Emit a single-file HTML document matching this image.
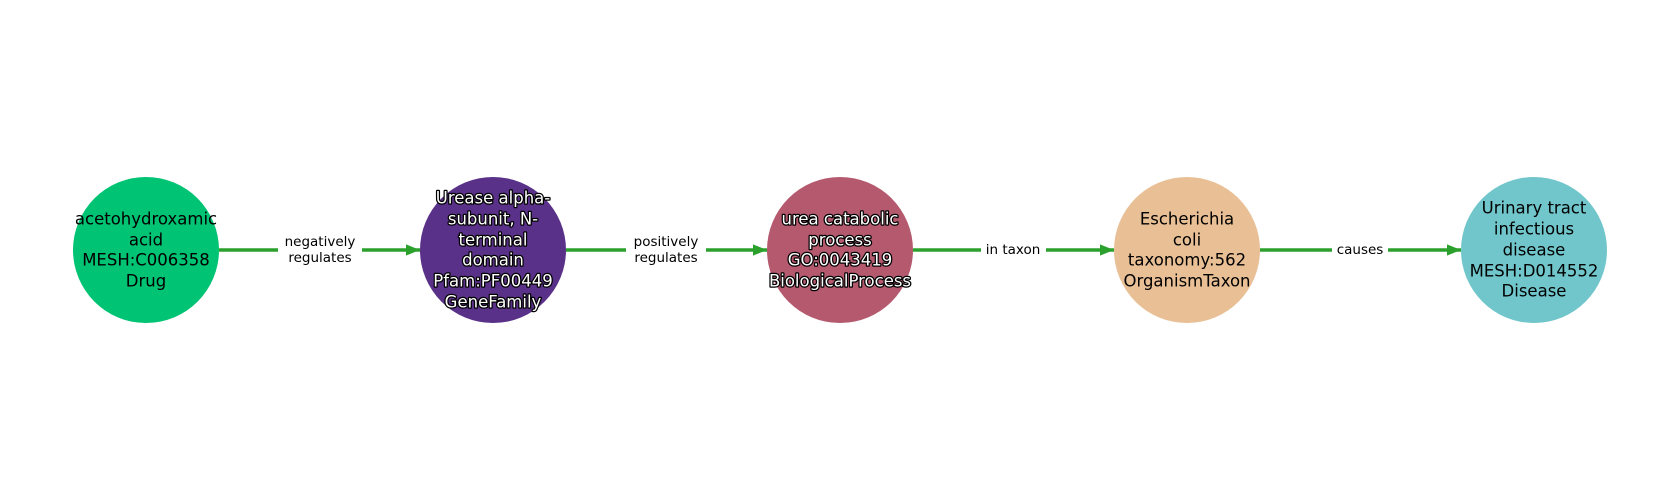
<!DOCTYPE html>
<html><head><meta charset="utf-8"><style>
html,body{margin:0;padding:0;background:#fff;}
svg{display:block;}
text{font-family:"DejaVu Sans","Liberation Sans",sans-serif;}
.n{font-size:16.5px;text-anchor:middle;dominant-baseline:central;fill:#000;}
.w{fill:#fff;stroke:#000;stroke-width:2.5px;paint-order:stroke;stroke-linejoin:round;}
.e{font-size:13.5px;text-anchor:middle;dominant-baseline:central;fill:#000;}
</style></head><body>
<svg width="1680" height="500" viewBox="0 0 1680 500" xmlns="http://www.w3.org/2000/svg">
<defs><marker id="a" viewBox="0 0 10 10" refX="10" refY="5" markerWidth="4" markerHeight="4" orient="auto" markerUnits="strokeWidth"><path d="M0,1 L10,5 L0,9 Z" fill="#2ca02c"/></marker></defs>
<g stroke="#2ca02c" stroke-width="3.5" marker-end="url(#a)">
<line x1="219" y1="250" x2="420" y2="250"/>
<line x1="566" y1="250" x2="767" y2="250"/>
<line x1="913" y1="250" x2="1114" y2="250"/>
<line x1="1260" y1="250" x2="1461" y2="250"/>
</g>
<circle cx="146" cy="250" r="73" fill="#00c373"/>
<circle cx="493" cy="250" r="73" fill="#5a3188"/>
<circle cx="840" cy="250" r="73" fill="#b5596e"/>
<circle cx="1187" cy="250" r="73" fill="#e9bf96"/>
<circle cx="1534" cy="250" r="73" fill="#71c6cb"/>
<g fill="#fff"><rect x="278" y="232" width="84" height="36"/><rect x="626" y="232" width="80" height="36"/><rect x="981" y="240" width="65" height="20"/><rect x="1332" y="240" width="56" height="20"/></g>
<text class="e" x="320" y="242">negatively</text><text class="e" x="320" y="258">regulates</text>
<text class="e" x="666" y="242">positively</text><text class="e" x="666" y="258">regulates</text>
<text class="e" x="1013" y="250">in taxon</text>
<text class="e" x="1360" y="250">causes</text>
<text class="n" x="146" y="219">acetohydroxamic</text><text class="n" x="146" y="240">acid</text><text class="n" x="146" y="260">MESH:C006358</text><text class="n" x="146" y="281">Drug</text>
<g class="n w"><text x="493" y="198">Urease alpha-</text><text x="493" y="219">subunit, N-</text><text x="493" y="240">terminal</text><text x="493" y="260">domain</text><text x="493" y="281">Pfam:PF00449</text><text x="493" y="302">GeneFamily</text></g>
<g class="n w"><text x="840" y="219">urea catabolic</text><text x="840" y="240">process</text><text x="840" y="260">GO:0043419</text><text x="840" y="281">BiologicalProcess</text></g>
<text class="n" x="1187" y="219">Escherichia</text><text class="n" x="1187" y="240">coli</text><text class="n" x="1187" y="260">taxonomy:562</text><text class="n" x="1187" y="281">OrganismTaxon</text>
<text class="n" x="1534" y="208">Urinary tract</text><text class="n" x="1534" y="229">infectious</text><text class="n" x="1534" y="250">disease</text><text class="n" x="1534" y="271">MESH:D014552</text><text class="n" x="1534" y="291">Disease</text>
</svg>
</body></html>
